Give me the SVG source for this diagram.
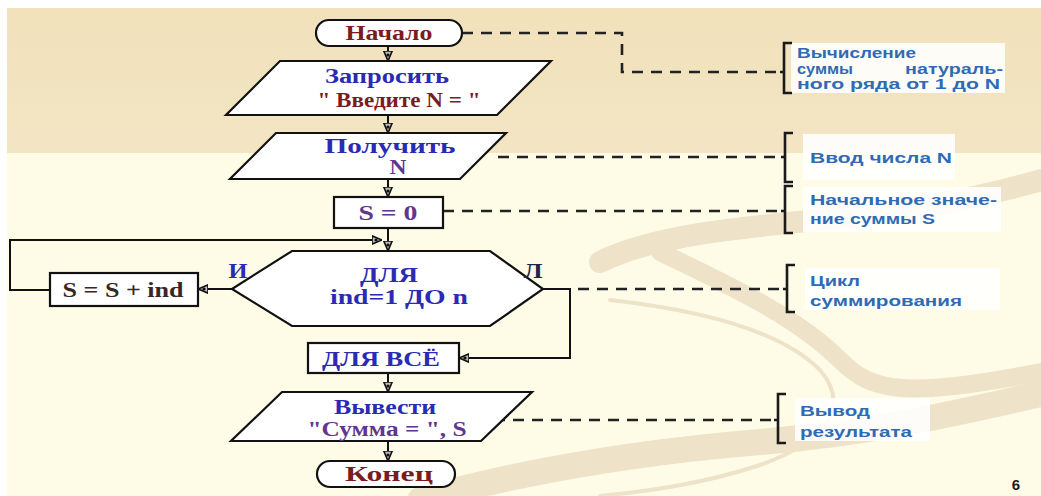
<svg xmlns="http://www.w3.org/2000/svg" width="1041" height="496" viewBox="0 0 1041 496">
  <defs>
    <linearGradient id="bandTop" x1="0" y1="0" x2="0" y2="1">
      <stop offset="0" stop-color="#f1e1bb"/>
      <stop offset="1" stop-color="#f3e5c4"/>
    </linearGradient>
    <marker id="tip" viewBox="0 0 10 10" refX="10" refY="5" markerWidth="10" markerHeight="10" markerUnits="userSpaceOnUse" orient="auto">
      <path d="M0,0.8 L10,5 L0,9.2 Z" fill="#b8b8b8" stroke="#111" stroke-width="1.6"/>
      <circle cx="4" cy="5" r="1.6" fill="#111"/>
    </marker>
    <style>
      .shape { fill: #ffffff; stroke: #111; stroke-width: 2.2; }
      .flow { fill: none; stroke: #111; stroke-width: 2; }
      .dash { fill: none; stroke: #222; stroke-width: 2.6; stroke-dasharray: 11 8; }
      .brace { fill: none; stroke: #1a1a1a; stroke-width: 2.6; }
      .note { fill: #ffffff; opacity: 0.88; }
      .t { font-family: "Liberation Serif", "Times New Roman", serif; font-weight: bold; font-size: 20px; text-anchor: middle; }
      .red { fill: #7a1c1e; }
      .blue { fill: #2a2ab4; }
      .purple { fill: #62358f; }
      .dark { fill: #3a2626; }
      .nt { font-family: "Liberation Sans", Arial, sans-serif; font-weight: bold; font-size: 14.5px; fill: #2f6bb5; }
      .swirl { fill: none; stroke: #eee3c8; stroke-linecap: round; }
    </style>
  </defs>

  <!-- page background -->
  <rect x="0" y="0" width="1041" height="496" fill="#ffffff"/>
  <rect x="7" y="8" width="1034" height="488" fill="#fefbe6"/>
  <rect x="7" y="8" width="1034" height="145" fill="url(#bandTop)"/>

  <!-- decorative swirl -->
  <g id="swirl">
    <path class="swirl" stroke-width="22" d="M600,262 C660,232 760,226 860,216 C940,206 1000,192 1041,180"/>
    <path class="swirl" stroke-width="4" d="M610,300 C700,310 780,330 820,370 C850,405 830,440 760,465 C700,485 640,492 600,496"/>
    <path class="swirl" stroke-width="18" d="M660,252 C740,290 800,320 840,360 C870,390 900,400 1041,372"/>
    <path class="swirl" stroke-width="26" d="M420,500 C520,472 640,452 760,442 C880,432 960,412 1041,394"/>
  </g>

  <!-- connectors -->
  <g id="connectors">
    <path class="flow" marker-end="url(#tip)" d="M388,46 V61"/>
    <path class="flow" marker-end="url(#tip)" d="M388,115 V133"/>
    <path class="flow" marker-end="url(#tip)" d="M388,179 V197"/>
    <path class="flow" marker-end="url(#tip)" d="M388,228 V251"/>
    <path class="flow" marker-end="url(#tip)" d="M50,290 H10 V240 H382"/>
    <path class="flow" marker-end="url(#tip)" d="M232,289 H198"/>
    <path class="flow" marker-end="url(#tip)" d="M543,289 H570 V358 H459"/>
    <path class="flow" marker-end="url(#tip)" d="M388,373 V392"/>
    <path class="flow" marker-end="url(#tip)" d="M388,441 V461"/>

    <!-- comment leaders -->
    <path class="dash" d="M462,33 H622 V72 H782"/>
    <path class="dash" d="M498,157 H782"/>
    <path class="dash" d="M443,211 H782"/>
    <path class="dash" d="M578,289 H784"/>
    <path class="dash" d="M494,420 H776"/>
  </g>

  <!-- flowchart nodes -->
  <g id="start">
    <rect class="shape" x="316" y="20" width="146" height="26" rx="13"/>
    <text class="t red" x="389" y="40" textLength="87" lengthAdjust="spacingAndGlyphs">Начало</text>
  </g>
  <g id="ask">
    <polygon class="shape" points="280,61 551,61 497,115 226,115"/>
    <text class="t blue" x="387" y="83" textLength="124" lengthAdjust="spacingAndGlyphs">Запросить</text>
    <text class="t red" x="399" y="107" textLength="163" lengthAdjust="spacingAndGlyphs">" Введите N = "</text>
  </g>
  <g id="read">
    <polygon class="shape" points="276,133 506,133 460,179 230,179"/>
    <text class="t blue" x="390" y="153" textLength="131" lengthAdjust="spacingAndGlyphs">Получить</text>
    <text class="t purple" x="398" y="174" textLength="17" lengthAdjust="spacingAndGlyphs">N</text>
  </g>
  <g id="init">
    <rect class="shape" x="334" y="197" width="109" height="31"/>
    <text class="t purple" x="388" y="220" textLength="59" lengthAdjust="spacingAndGlyphs">S = 0</text>
  </g>
  <g id="loop">
    <polygon class="shape" points="232,289 292,251 490,251 543,289 490,326 292,326"/>
    <text class="t blue" x="389" y="282" textLength="58" lengthAdjust="spacingAndGlyphs">ДЛЯ</text>
    <text class="t blue" x="399" y="304" textLength="138" lengthAdjust="spacingAndGlyphs">ind=1 ДО n</text>
    <text class="t blue" x="238" y="278" textLength="19" lengthAdjust="spacingAndGlyphs">И</text>
    <text class="t" x="533" y="278" fill="#22224e" textLength="19" lengthAdjust="spacingAndGlyphs">Л</text>
  </g>
  <g id="accumulate">
    <rect class="shape" x="50" y="273" width="148" height="33"/>
    <text class="t dark" x="123" y="297" textLength="121" lengthAdjust="spacingAndGlyphs">S = S + ind</text>
  </g>
  <g id="loop-end">
    <rect class="shape" x="308" y="343" width="151" height="30"/>
    <text class="t blue" x="381" y="366" textLength="118" lengthAdjust="spacingAndGlyphs">ДЛЯ ВСЁ</text>
  </g>
  <g id="output">
    <polygon class="shape" points="282,392 532,392 481,441 231,441"/>
    <text class="t blue" x="385" y="414" textLength="102" lengthAdjust="spacingAndGlyphs">Вывести</text>
    <text class="t purple" x="387" y="436" textLength="159" lengthAdjust="spacingAndGlyphs">"Сумма = ", S</text>
  </g>
  <g id="end">
    <rect class="shape" x="317" y="461" width="138" height="26" rx="13"/>
    <text class="t red" x="389" y="481" textLength="88" lengthAdjust="spacingAndGlyphs">Конец</text>
  </g>

  <!-- comments -->
  <g id="note-task">
    <rect class="note" x="791" y="43" width="214" height="50"/>
    <path class="brace" d="M792,43 H784 V93 H792 M784,72 H780"/>
    <text class="nt" x="797" y="58" textLength="119" lengthAdjust="spacingAndGlyphs">Вычисление</text>
    <text class="nt" y="74"><tspan x="797" textLength="56" lengthAdjust="spacingAndGlyphs">суммы</tspan><tspan x="905" textLength="98" lengthAdjust="spacingAndGlyphs">натураль-</tspan></text>
    <text class="nt" x="797" y="89" textLength="203" lengthAdjust="spacingAndGlyphs">ного ряда от 1 до N</text>
  </g>
  <g id="note-input">
    <rect class="note" x="803" y="134" width="152" height="46"/>
    <path class="brace" d="M793,133 H785 V182 H793 M785,157 H781"/>
    <text class="nt" x="810" y="163" textLength="142" lengthAdjust="spacingAndGlyphs">Ввод числа  N</text>
  </g>
  <g id="note-init">
    <rect class="note" x="803" y="187" width="198" height="45"/>
    <path class="brace" d="M793,186 H785 V233 H793 M785,211 H781"/>
    <text class="nt" x="810" y="205" textLength="187" lengthAdjust="spacingAndGlyphs">Начальное  значе-</text>
    <text class="nt" x="810" y="224" textLength="125" lengthAdjust="spacingAndGlyphs">ние суммы S</text>
  </g>
  <g id="note-loop">
    <rect class="note" x="805" y="268" width="195" height="42"/>
    <path class="brace" d="M795,265 H787 V312 H795 M787,289 H783"/>
    <text class="nt" x="810" y="286" textLength="50" lengthAdjust="spacingAndGlyphs">Цикл</text>
    <text class="nt" x="810" y="306" textLength="152" lengthAdjust="spacingAndGlyphs">суммирования</text>
  </g>
  <g id="note-output">
    <rect class="note" x="795" y="398" width="135" height="43"/>
    <path class="brace" d="M786,394 H778 V443 H786 M778,420 H774"/>
    <text class="nt" x="800" y="416" textLength="70" lengthAdjust="spacingAndGlyphs">Вывод</text>
    <text class="nt" x="800" y="437" textLength="112" lengthAdjust="spacingAndGlyphs">результата</text>
  </g>

  <text x="1016" y="490" font-family="Liberation Sans, Arial, sans-serif" font-weight="bold" font-size="15" fill="#1a1a1a" text-anchor="middle">6</text>
</svg>
